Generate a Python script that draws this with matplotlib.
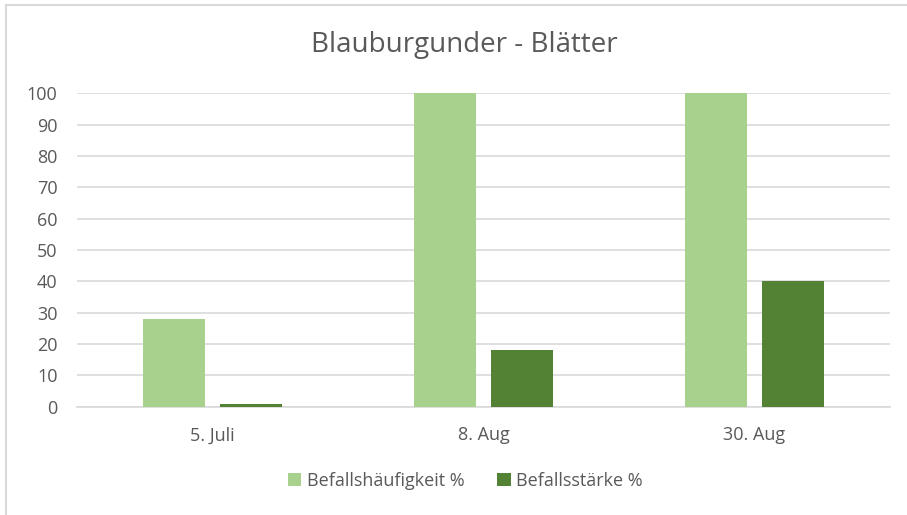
import numpy as np
import matplotlib
matplotlib.use("Agg")
import matplotlib.pyplot as plt
from matplotlib.lines import Line2D

plt.rcParams["font.family"] = ["Open Sans", "DejaVu Sans"]

kategorien = ["5. Juli", "8. Aug", "30. Aug"]
haeufigkeit = [28, 100, 100]
staerke = [1, 18, 40]
serien = ["Befallshäufigkeit %", "Befallsstärke %"]
farben = ["#A9D18E", "#548235"]

fig = plt.figure(figsize=(9.07, 5.15), dpi=100)
ax = fig.add_axes([0.085, 0.21, 0.896, 0.609])

x = np.arange(len(kategorien))
breite = 0.229
versatz = 0.142
ax.bar(x - versatz, haeufigkeit, breite, color=farben[0], label=serien[0], zorder=3)
ax.bar(x + versatz, staerke, breite, color=farben[1], label=serien[1], zorder=3)

ax.set_xlim(-0.5, 2.5)
ax.set_ylim(0, 100)
ax.set_yticks(range(0, 101, 10))
ax.set_xticks(x)
ax.set_xticklabels(kategorien)
ax.grid(axis="y", color="#d9d9d9", linewidth=1.2, zorder=0)
ax.set_axisbelow(True)
for s in ["top", "right", "left"]:
    ax.spines[s].set_visible(False)
ax.spines["bottom"].set_color("#d9d9d9")
ax.spines["bottom"].set_linewidth(1.2)
ax.tick_params(length=0, colors="#595959", labelsize=13)
ax.tick_params(axis="y", pad=14)
ax.tick_params(axis="x", pad=14)

fig.text(0.512, 0.913, "Blauburgunder - Blätter", ha="center", va="center",
         fontsize=20, color="#595959")

ax.legend(loc="center", bbox_to_anchor=(0.513, 0.066), bbox_transform=fig.transFigure,
          ncol=2, frameon=False, fontsize=13, labelcolor="#595959",
          handlelength=0.75, handleheight=0.75, handletextpad=0.3, columnspacing=1.8)

# Rahmen oben und links
fig.add_artist(Line2D([0.007, 1.0], [0.99, 0.99], color="#d9d9d9", linewidth=1.5))
fig.add_artist(Line2D([0.007, 0.007], [0.0, 0.99], color="#d9d9d9", linewidth=1.5))

fig.savefig("out.png", dpi=100)
